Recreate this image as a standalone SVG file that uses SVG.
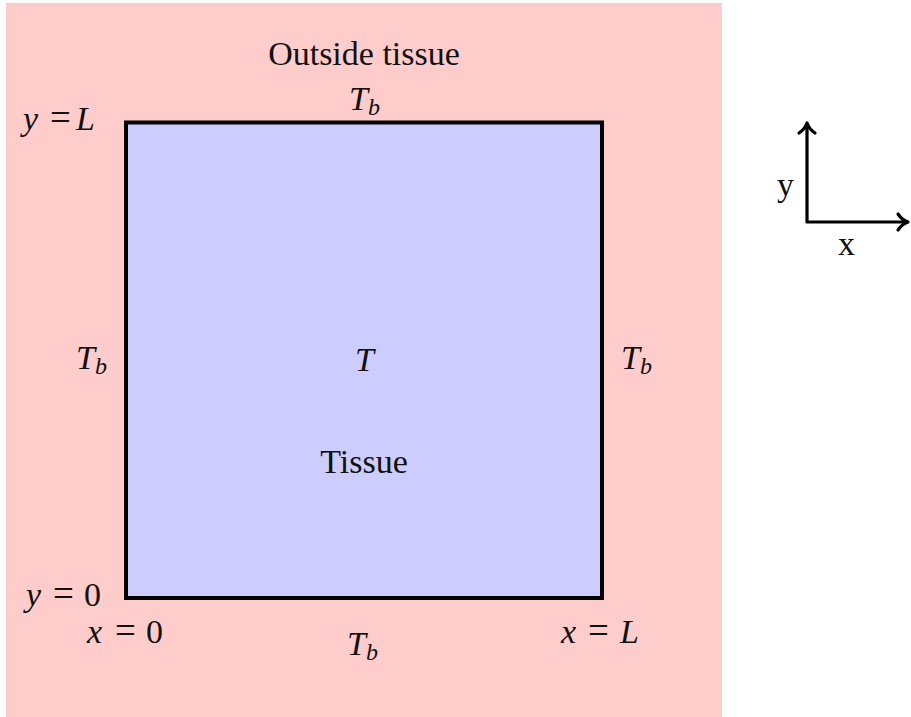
<svg xmlns="http://www.w3.org/2000/svg" width="911" height="717" viewBox="0 0 911 717">
<style>
text{font-family:"Liberation Serif","DejaVu Serif",serif;font-size:34px;fill:#111}
.it{font-style:italic}
.sub{font-size:24px;font-style:italic}
.eq{font-size:37px}
.ax{stroke:#000;stroke-width:3.2;fill:none;stroke-linecap:round;stroke-linejoin:round}
</style>
<rect x="6" y="3" width="716" height="714" fill="#FFCCCC"/>
<g id="tissue">
<rect x="126" y="122.5" width="476" height="475.5" fill="#CCCCFF" stroke="#000" stroke-width="4"/>
<text x="355" y="371" class="it">T</text>
<text x="364" y="473" text-anchor="middle">Tissue</text>
</g>
<g id="outside">
<text x="364" y="65" text-anchor="middle">Outside tissue</text>
</g>
<g id="boundary-labels">
<text x="349" y="110" class="it">T<tspan class="sub" dy="5">b</tspan></text>
<text x="76" y="369" class="it">T<tspan class="sub" dy="5">b</tspan></text>
<text x="621" y="369" class="it">T<tspan class="sub" dy="5">b</tspan></text>
<text x="347" y="655" class="it">T<tspan class="sub" dy="5">b</tspan></text>
</g>
<g id="coord-labels">
<text y="130"><tspan x="23" class="it">y</tspan><tspan x="50" class="eq">=</tspan><tspan x="76" class="it">L</tspan></text>
<text y="606"><tspan x="26" class="it">y</tspan><tspan x="53" class="eq">=</tspan><tspan x="84">0</tspan></text>
<text y="643"><tspan x="87" class="it">x</tspan><tspan x="115" class="eq">=</tspan><tspan x="146">0</tspan></text>
<text y="643"><tspan x="561" class="it">x</tspan><tspan x="588" class="eq">=</tspan><tspan x="620" class="it">L</tspan></text>
</g>
<g id="axes">
<path class="ax" d="M807,222 V124 M808,222 H907"/>
<path class="ax" d="M799,133 Q805,129 807,123 Q809,129 815,133"/>
<path class="ax" d="M898,214 Q902,220 908,222 Q902,224 898,230"/>
<text x="777" y="196">y</text>
<text x="838" y="255">x</text>
</g>
</svg>
